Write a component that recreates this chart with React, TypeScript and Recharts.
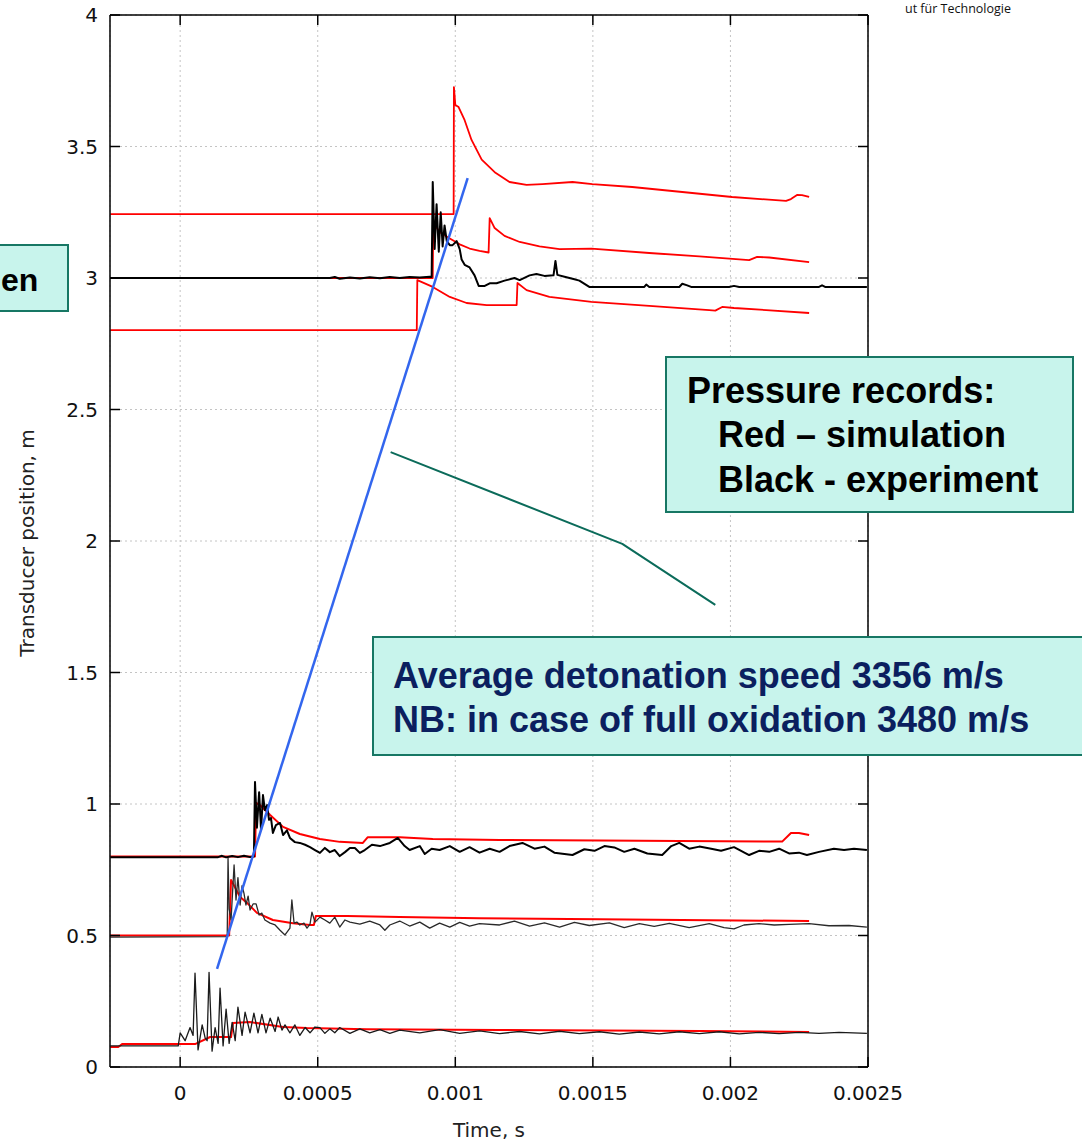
import React from 'react';
import { ComposedChart, Line, XAxis, YAxis, CartesianGrid } from 'recharts';

type P = [number, number];

// time in microseconds, value = transducer position (m) + scaled pressure
const X_TICKS = [0, 500, 1000, 1500, 2000, 2500];
const X_TICK_LABELS = ['0', '0.0005', '0.001', '0.0015', '0.002', '0.0025'];
const Y_TICKS = [0, 0.5, 1, 1.5, 2, 2.5, 3, 3.5, 4];
const Y_TICK_LABELS = ['0', '0.5', '1', '1.5', '2', '2.5', '3', '3.5', '4'];

// simulation (red), transducer near 3 m
const simA: P[] = [
  [-254, 3.243], [994, 3.243], [995, 3.726], [1000, 3.658], [1012, 3.65], [1034, 3.6], [1059, 3.525],
  [1096, 3.45], [1146, 3.4], [1197, 3.365], [1259, 3.354], [1317, 3.357], [1426, 3.365], [1498, 3.357],
  [1643, 3.346], [1825, 3.327], [2006, 3.308], [2202, 3.293], [2220, 3.3], [2242, 3.316], [2260, 3.315], [2286, 3.308],
];
const simB: P[] = [
  [-254, 3.0], [918, 3.0], [920, 3.21], [943, 3.175], [980, 3.15], [1016, 3.128], [1052, 3.112], [1088, 3.103],
  [1121, 3.097], [1125, 3.228], [1143, 3.19], [1179, 3.16], [1234, 3.137], [1306, 3.12], [1379, 3.11], [1495, 3.112],
  [1705, 3.095], [1887, 3.082], [2068, 3.068], [2097, 3.08], [2141, 3.078], [2286, 3.06],
];
const simC: P[] = [
  [-254, 2.802], [860, 2.802], [862, 2.992], [918, 2.966], [980, 2.928], [1041, 2.905], [1114, 2.897], [1223, 2.897],
  [1226, 2.981], [1259, 2.954], [1342, 2.928], [1495, 2.909], [1705, 2.894], [1923, 2.878], [1945, 2.876],
  [1970, 2.89], [2013, 2.886], [2130, 2.878], [2286, 2.867],
];
// experiment (black), transducer at 3 m
const expTop: P[] = [
  [-254, 3.0], [544, 3.0], [562, 3.004], [580, 2.997], [617, 3.002], [653, 2.998], [689, 3.003], [726, 2.999],
  [762, 3.004], [798, 3.0], [834, 3.004], [871, 3.002], [907, 3.005], [914, 3.004], [918, 3.365], [925, 3.11],
  [932, 3.28], [940, 3.1], [947, 3.25], [954, 3.12], [961, 3.2], [969, 3.14], [980, 3.125], [990, 3.125],
  [1005, 3.14], [1016, 3.11], [1023, 3.07], [1034, 3.05], [1052, 3.04], [1070, 3.01], [1085, 2.97], [1107, 2.97],
  [1125, 2.98], [1150, 2.98], [1179, 2.99], [1215, 3.0], [1234, 2.992], [1270, 3.01], [1295, 3.015], [1324, 3.008],
  [1357, 3.01], [1364, 3.065], [1371, 3.012], [1397, 3.005], [1433, 2.995], [1451, 2.99], [1487, 2.966],
  [1687, 2.966], [1694, 2.975], [1705, 2.966], [1814, 2.966], [1825, 2.978], [1843, 2.972], [1857, 2.966],
  [1995, 2.966], [2013, 2.97], [2032, 2.966], [2322, 2.966], [2333, 2.972], [2344, 2.966], [2496, 2.966],
];
// transducer at 0.8 m
const simD: P[] = [
  [-254, 0.8], [272, 0.8], [276, 1.004], [290, 0.996], [327, 0.958], [374, 0.913], [435, 0.886], [508, 0.867],
  [580, 0.856], [664, 0.852], [682, 0.874], [798, 0.874], [918, 0.867], [1161, 0.863], [1524, 0.861],
  [1814, 0.859], [2188, 0.857], [2220, 0.89], [2249, 0.89], [2286, 0.882],
];
const expMid: P[] = [
  [-254, 0.798], [138, 0.798], [152, 0.803], [167, 0.797], [189, 0.802], [210, 0.798], [232, 0.803], [254, 0.798],
  [268, 0.8], [272, 1.084], [279, 0.91], [287, 1.045], [294, 0.9], [301, 1.034], [308, 0.977], [316, 0.996],
  [323, 0.94], [330, 0.947], [337, 0.89], [348, 0.92], [363, 0.928], [374, 0.882], [388, 0.9], [399, 0.871],
  [417, 0.855], [435, 0.852], [454, 0.845], [472, 0.836], [490, 0.825], [508, 0.814], [526, 0.833], [544, 0.817],
  [562, 0.825], [580, 0.802], [599, 0.817], [617, 0.833], [635, 0.833], [653, 0.814], [671, 0.825], [697, 0.845],
  [726, 0.84], [762, 0.852], [791, 0.871], [816, 0.84], [834, 0.825], [871, 0.84], [889, 0.81], [914, 0.83],
  [943, 0.825], [980, 0.84], [1016, 0.818], [1052, 0.836], [1088, 0.815], [1125, 0.83], [1161, 0.818],
  [1197, 0.84], [1244, 0.852], [1288, 0.83], [1324, 0.838], [1360, 0.815], [1426, 0.806], [1469, 0.828],
  [1506, 0.822], [1542, 0.84], [1578, 0.835], [1614, 0.818], [1651, 0.83], [1698, 0.812], [1752, 0.806],
  [1785, 0.84], [1814, 0.852], [1850, 0.83], [1887, 0.838], [1930, 0.83], [1966, 0.822], [2013, 0.836],
  [2068, 0.806], [2104, 0.822], [2141, 0.818], [2177, 0.83], [2213, 0.812], [2249, 0.815], [2278, 0.806],
  [2322, 0.818], [2376, 0.83], [2413, 0.825], [2449, 0.83], [2496, 0.825],
];
// transducer at 0.5 m
const simE: P[] = [
  [-254, 0.5], [178, 0.5], [185, 0.711], [218, 0.646], [243, 0.624], [279, 0.586], [337, 0.559], [410, 0.547],
  [472, 0.54], [486, 0.54], [493, 0.574], [606, 0.574], [798, 0.57], [1088, 0.566], [1524, 0.562], [2286, 0.555],
];
const expLow: P[] = [
  [-254, 0.494], [171, 0.496], [174, 0.795], [178, 0.6], [185, 0.56], [196, 0.768], [203, 0.635], [210, 0.72],
  [218, 0.616], [225, 0.69], [232, 0.66], [239, 0.616], [247, 0.65], [254, 0.597], [265, 0.62], [276, 0.62],
  [287, 0.578], [297, 0.585], [308, 0.559], [327, 0.547], [345, 0.54], [363, 0.52], [381, 0.502], [399, 0.528],
  [406, 0.635], [414, 0.547], [424, 0.551], [435, 0.54], [450, 0.547], [461, 0.528], [472, 0.543], [479, 0.589],
  [490, 0.551], [508, 0.57], [526, 0.559], [544, 0.547], [562, 0.57], [580, 0.532], [599, 0.559], [617, 0.551],
  [653, 0.543], [689, 0.555], [726, 0.54], [744, 0.52], [762, 0.54], [798, 0.555], [834, 0.536], [871, 0.551],
  [907, 0.528], [943, 0.547], [980, 0.532], [1016, 0.55], [1052, 0.536], [1088, 0.545], [1161, 0.54],
  [1215, 0.555], [1270, 0.536], [1324, 0.548], [1379, 0.532], [1433, 0.55], [1487, 0.538], [1560, 0.548],
  [1614, 0.53], [1669, 0.545], [1723, 0.535], [1778, 0.546], [1850, 0.53], [1923, 0.545], [1977, 0.53],
  [2013, 0.525], [2049, 0.54], [2104, 0.545], [2159, 0.54], [2213, 0.542], [2286, 0.545], [2358, 0.537],
  [2431, 0.538], [2496, 0.532],
];
// transducer near 0.08 m
const simF: P[] = [
  [-254, 0.076], [-225, 0.076], [-211, 0.087], [54, 0.087], [109, 0.114], [185, 0.114], [192, 0.167],
  [254, 0.171], [374, 0.152], [461, 0.148], [678, 0.144], [1161, 0.141], [1887, 0.137], [2286, 0.133],
];
const expBot: P[] = [
  [-254, 0.08], [-7, 0.08], [0, 0.13], [18, 0.1], [36, 0.15], [47, 0.12], [54, 0.357], [65, 0.065], [80, 0.16],
  [91, 0.11], [98, 0.1], [105, 0.36], [116, 0.06], [127, 0.15], [138, 0.09], [145, 0.3], [156, 0.08], [167, 0.22],
  [178, 0.09], [189, 0.17], [200, 0.1], [210, 0.228], [225, 0.12], [236, 0.209], [254, 0.13], [268, 0.205],
  [283, 0.13], [297, 0.2], [312, 0.13], [327, 0.186], [345, 0.135], [356, 0.19], [370, 0.14], [381, 0.16],
  [399, 0.13], [417, 0.16], [435, 0.12], [454, 0.15], [472, 0.13], [490, 0.152], [508, 0.15], [526, 0.128],
  [544, 0.145], [562, 0.13], [580, 0.15], [617, 0.128], [653, 0.145], [689, 0.13], [726, 0.142], [762, 0.128],
  [798, 0.14], [871, 0.13], [943, 0.142], [1016, 0.128], [1088, 0.137], [1161, 0.127], [1234, 0.135],
  [1306, 0.126], [1379, 0.136], [1451, 0.127], [1524, 0.134], [1596, 0.125], [1669, 0.133], [1741, 0.126],
  [1814, 0.134], [1887, 0.127], [1959, 0.134], [2032, 0.126], [2104, 0.132], [2177, 0.127], [2249, 0.132],
  [2322, 0.128], [2395, 0.132], [2496, 0.128],
];
// detonation front fit (blue) and annotation pointer (teal)
const speedFit: P[] = [[134, 0.373], [1045, 3.38]];
const pointer: P[] = [[765, 2.338], [1607, 1.989], [1945, 1.757]];

const toData = (arr: P[]) => arr.map(([t, v]) => ({ t, v }));

const SERIES: { key: string; pts: P[]; stroke: string; width: number }[] = [
  { key: 'simF', pts: simF, stroke: '#ff0000', width: 2 },
  { key: 'simE', pts: simE, stroke: '#ff0000', width: 2 },
  { key: 'simD', pts: simD, stroke: '#ff0000', width: 2 },
  { key: 'simC', pts: simC, stroke: '#ff0000', width: 1.8 },
  { key: 'simB', pts: simB, stroke: '#ff0000', width: 1.8 },
  { key: 'simA', pts: simA, stroke: '#ff0000', width: 1.8 },
  { key: 'expBot', pts: expBot, stroke: '#1a1a1a', width: 1.3 },
  { key: 'expLow', pts: expLow, stroke: '#2a2a2a', width: 1.3 },
  { key: 'expMid', pts: expMid, stroke: '#000000', width: 2 },
  { key: 'expTop', pts: expTop, stroke: '#000000', width: 2 },
  { key: 'speedFit', pts: speedFit, stroke: '#3366ee', width: 2.5 },
  { key: 'pointer', pts: pointer, stroke: '#0b6b5a', width: 2 },
];

const TICK_FONT = 'DejaVu Sans, sans-serif';
const TICK_LEN = 10;

const BottomTick = (props: any) => {
  const { x, y, payload } = props;
  const i = X_TICKS.indexOf(payload.value);
  return (
    <g>
      <line x1={x} x2={x} y1={y} y2={y - TICK_LEN} stroke="#000" strokeWidth={1.5} />
      <text x={x} y={y + 33} textAnchor="middle" fontSize={20} fontFamily={TICK_FONT} fill="#111">
        {X_TICK_LABELS[i]}
      </text>
    </g>
  );
};
const TopTick = (props: any) => {
  const { x, y } = props;
  return <line x1={x} x2={x} y1={y} y2={y + TICK_LEN} stroke="#000" strokeWidth={1.5} />;
};
const LeftTick = (props: any) => {
  const { x, y, payload } = props;
  const i = Y_TICKS.indexOf(payload.value);
  return (
    <g>
      <line x1={x} x2={x + TICK_LEN} y1={y} y2={y} stroke="#000" strokeWidth={1.5} />
      <text x={x - 12} y={y + 7} textAnchor="end" fontSize={20} fontFamily={TICK_FONT} fill="#111">
        {Y_TICK_LABELS[i]}
      </text>
    </g>
  );
};
const RightTick = (props: any) => {
  const { x, y } = props;
  return <line x1={x} x2={x - TICK_LEN} y1={y} y2={y} stroke="#000" strokeWidth={1.5} />;
};

const BOX_FILL = '#c8f4ec';
const BOX_STROKE = '#177764';
const BOX_FONT = 'Liberation Sans, Arial, sans-serif';

export default function App() {
  const axisLine = { stroke: '#000', strokeWidth: 1.5 };
  return (
    <div style={{ position: 'absolute', left: 0, top: 0, width: 1082, height: 1141, background: '#fff' }}>
      <ComposedChart width={1082} height={1141} margin={{ top: 5, right: 204, bottom: 14, left: 50 }}>
        <CartesianGrid xAxisId="b" yAxisId="l" stroke="#c4c4c4" strokeDasharray="2 3" strokeWidth={1} />
        <XAxis xAxisId="b" orientation="bottom" type="number" dataKey="t" domain={[-255, 2500]} ticks={X_TICKS}
          allowDataOverflow height={60} tickSize={0} tickMargin={0} tickLine={false} axisLine={axisLine}
          interval={0} tick={<BottomTick />} />
        <XAxis xAxisId="t" orientation="top" type="number" dataKey="t" domain={[-255, 2500]} ticks={X_TICKS}
          allowDataOverflow height={10} tickSize={0} tickMargin={0} tickLine={false} axisLine={axisLine}
          interval={0} tick={<TopTick />} />
        <YAxis yAxisId="l" orientation="left" type="number" domain={[0, 4]} ticks={Y_TICKS} allowDataOverflow
          width={60} tickSize={0} tickMargin={0} tickLine={false} axisLine={axisLine} interval={0}
          tick={<LeftTick />} />
        <YAxis yAxisId="r" orientation="right" type="number" domain={[0, 4]} ticks={Y_TICKS} allowDataOverflow
          width={10} tickSize={0} tickMargin={0} tickLine={false} axisLine={axisLine} interval={0}
          tick={<RightTick />} />
        {SERIES.map((s) => (
          <Line key={s.key} xAxisId="b" yAxisId="l" data={toData(s.pts)} dataKey="v" type="linear"
            stroke={s.stroke} strokeWidth={s.width} dot={false} activeDot={false}
            isAnimationActive={false} strokeLinejoin="round" />
        ))}
      </ComposedChart>
      <svg width={1082} height={1141} style={{ position: 'absolute', left: 0, top: 0, pointerEvents: 'none' }}>
        <text x={27} y={543} transform="rotate(-90 27 543)" textAnchor="middle" dominantBaseline="central"
          fontSize={20} fontFamily={TICK_FONT} fill="#222">Transducer position, m</text>
        <text x={489} y={1137} textAnchor="middle" fontSize={20} fontFamily={TICK_FONT} fill="#222">Time, s</text>
        <text x={905} y={13} fontSize={12.5} fontFamily="Open Sans, sans-serif" fill="#111">ut für Technologie</text>

        <rect x={-3} y={245} width={71} height={66} fill={BOX_FILL} stroke={BOX_STROKE} strokeWidth={2} />
        <text x={1} y={291} textAnchor="start" fontSize={32} fontWeight="bold" fontFamily={BOX_FONT} fill="#000">en</text>

        <rect x={666} y={357} width={407} height={155} fill={BOX_FILL} stroke={BOX_STROKE} strokeWidth={2} />
        <text fontSize={36} fontWeight="bold" fontFamily={BOX_FONT} fill="#000">
          <tspan x={687} y={403}>Pressure records:</tspan>
          <tspan x={718} y={447}>Red – simulation</tspan>
          <tspan x={718} y={492}>Black - experiment</tspan>
        </text>

        <rect x={373} y={637} width={720} height={118} fill={BOX_FILL} stroke={BOX_STROKE} strokeWidth={2} />
        <text fontSize={36} fontWeight="bold" fontFamily={BOX_FONT} fill="#0b1f5f">
          <tspan x={393} y={688}>Average detonation speed 3356 m/s</tspan>
          <tspan x={393} y={732}>NB: in case of full oxidation 3480 m/s</tspan>
        </text>
      </svg>
    </div>
  );
}
